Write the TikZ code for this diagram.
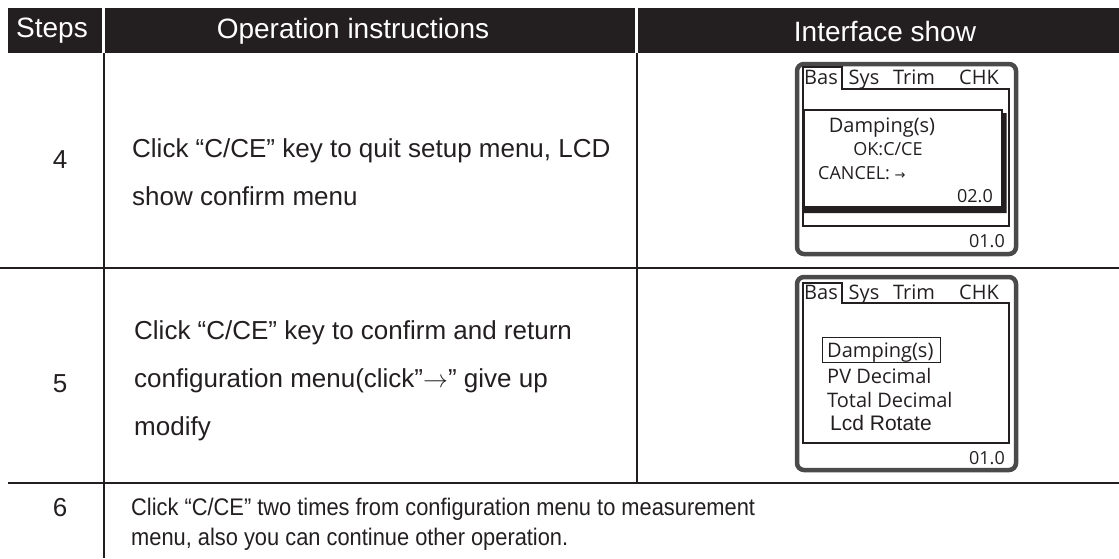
\documentclass[tikz,border=0pt]{standalone}
\usepackage{fontspec}
\setmainfont{Liberation Sans}
\newfontfamily\lcdfont{Open Sans}
\newfontfamily\narrowfont[FakeStretch=0.91]{Liberation Sans}
\newfontfamily\symfont{DejaVu Sans}
\definecolor{ink}{HTML}{231F20}
\definecolor{bezel}{HTML}{4A4A4A}

\begin{document}
\begin{tikzpicture}[x=1pt, y=-1pt,
        every node/.style={inner sep=0pt, text=ink},
        head/.style={fill=ink},
        headtext/.style={text=white, font=\fontsize{28}{30}\selectfont},
        rule/.style={draw=ink, line width=2.6pt},
        stepnum/.style={font=\fontsize{26}{30}\selectfont},
        steptext/.style={anchor=west, align=left, font=\fontsize{26}{48}\selectfont},
        bezelbox/.style={draw=bezel, line width=4.5pt, rounded corners=7pt},
        lcdline/.style={draw=ink, line width=1.1pt},
        lcdtext/.style={anchor=base, font=\lcdfont\fontsize{20}{22}\selectfont},
        lcdsmall/.style={anchor=base, font=\lcdfont\fontsize{18}{20}\selectfont}
      ]
    \useasboundingbox (0,0) rectangle (1119,558);

    \fill[head] (8,8) rectangle (101.5,53);
    \fill[head] (104.5,8) rectangle (635,53);
    \fill[head] (638,8) rectangle (1119,53);
    \node[headtext] (steps) at (52,31) {Steps};
    \node[headtext] (ops) at (353,31) {Operation instructions};
    \node[headtext] (iface) at (885,31) {Interface show};

    \draw[rule] (104,53) -- (104,558);
    \draw[rule] (637,53) -- (637,483);
    \draw[rule] (0,268) -- (1119,268);
    \draw[rule] (8,483) -- (1119,483);

    \node[stepnum] (num4) at (60,160) {4};
    \node[stepnum] (num5) at (60,384) {5};
    \node[stepnum] (num6) at (60,508) {6};

    \node[steptext] (text4) at (132,172) {Click “C/CE” key to quit setup menu, LCD\\show confirm menu};
    \node[steptext] (text5) at (134,381) {Click “C/CE” key to confirm and return\\configuration menu(click”$\rightarrow$” give up\\modify};
    \node[steptext, font=\narrowfont\fontsize{24}{30}\selectfont] (text6) at (131,524) {Click “C/CE” two times from configuration menu to measurement\\menu, also you can continue other operation.};

    \draw[bezelbox] (797,64) rectangle (1016,254);
    \draw[lcdline] (803,226) -- (803,67) -- (842,67) -- (842,89) -- (1009,89) -- (1009,226) -- cycle;
    \node[lcdtext] (bas4) at (821,84) {Bas};
    \node[lcdtext] (sys4) at (864,84) {Sys};
    \node[lcdtext] (trim4) at (914,84) {Trim};
    \node[lcdtext] (chk4) at (979,84) {CHK};
    \fill[ink] (1002,113) -- (1006.5,113) -- (1006.5,213) -- (804,213) -- (804,207) -- (1002,207) -- cycle;
    \draw[lcdline] (804,110) rectangle (1002,207);
    \node[lcdtext] (damp4) at (882,132) {Damping(s)};
    \node[lcdsmall] (ok4) at (888,155) {OK:C/CE};
    \node[lcdsmall, anchor=base west] (cancel4) at (818,179) {CANCEL: {\symfont\fontsize{13}{14}\selectfont →}};
    \node[lcdsmall, anchor=base east] (val4) at (993,202) {02.0};
    \node[lcdsmall, anchor=base east] (low4) at (1005,247) {01.0};

    \draw[bezelbox] (797,277) rectangle (1016,470);
    \draw[lcdline] (803,443) -- (803,283) -- (842,283) -- (842,303) -- (1009,303) -- (1009,443) -- cycle;
    \node[lcdtext] (bas5) at (821,299) {Bas};
    \node[lcdtext] (sys5) at (864,299) {Sys};
    \node[lcdtext] (trim5) at (914,299) {Trim};
    \node[lcdtext] (chk5) at (979,299) {CHK};
    \node[lcdtext, anchor=base west] (damp5) at (827,357) {Damping(s)};
    \draw[draw=ink, line width=0.8pt] (822,337) rectangle (940,362);
    \node[lcdtext, anchor=base west] (pv5) at (827,383) {PV Decimal};
    \node[lcdtext, anchor=base west] (total5) at (827,407) {Total Decimal};
    \node[anchor=base west, font=\fontsize{21}{22}\selectfont] (lcd5) at (830,430) {Lcd Rotate};
    \node[lcdsmall, anchor=base east] (low5) at (1005,464) {01.0};

\end{tikzpicture}
\end{document}
